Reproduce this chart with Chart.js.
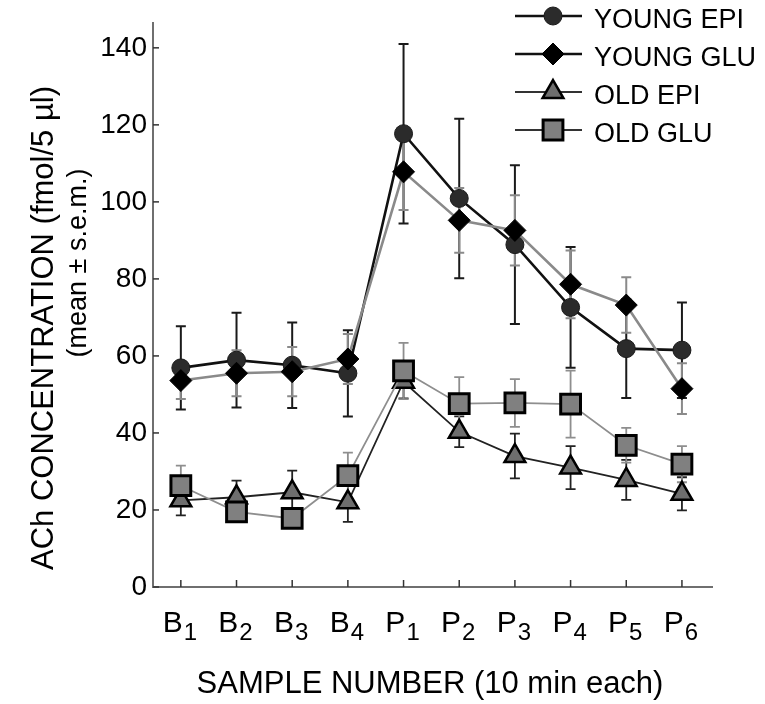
<!DOCTYPE html>
<html><head><meta charset="utf-8">
<script src="https://cdn.jsdelivr.net/npm/chart.js@4.4.1/dist/chart.umd.min.js"></script>
<style>html,body{margin:0;padding:0;background:#fff}#wrap{width:765px;height:704px}</style>
</head><body><div id="wrap"><canvas id="c" width="765" height="704"></canvas></div>
<script>
// ---- data ----
const categories = ['B1','B2','B3','B4','P1','P2','P3','P4','P5','P6'];
const yTicks = [0,20,40,60,80,100,120,140];
const seriesNames = ['YOUNG EPI','YOUNG GLU','OLD EPI','OLD GLU'];
const youngEpi    = [56.9, 58.9, 57.6, 55.5, 117.7, 100.9, 88.9, 72.6, 61.9, 61.5];
const youngEpiErr = [10.8, 12.3, 11.1, 11.2, 23.3, 20.7, 20.6, 15.7, 12.8, 12.4];
const youngGlu    = [53.6, 55.5, 55.9, 59.2, 107.8, 95.2, 92.6, 78.6, 73.2, 51.5];
const youngGluErr = [4.8, 6.0, 6.4, 6.5, 9.9, 8.4, 9.1, 8.8, 7.2, 6.6];
const oldEpi      = [22.5, 23.3, 24.6, 22.0, 53.3, 40.3, 34.0, 31.0, 27.8, 24.2];
const oldEpiErr   = [3.9, 4.3, 5.6, 5.1, 4.3, 4.0, 5.8, 5.6, 5.2, 4.3];
const oldGlu      = [26.3, 19.5, 17.8, 28.9, 56.1, 47.6, 47.8, 47.5, 36.8, 31.9];
const oldGluErr   = [5.2, 2.5, 2.5, 6.0, 7.3, 6.9, 6.2, 8.7, 4.5, 4.7];
const xTitle = 'SAMPLE NUMBER (10 min each)';
const yTitle1 = 'ACh CONCENTRATION (fmol/5 \u00b5l)';
const yTitle2 = '(mean \u00b1 s.e.m.)';

const FONT = "'Liberation Sans', Arial, sans-serif";
const toPts = arr => arr.map((v, i) => ({x: i, y: v}));

const styles = [
  {line:'#111111', lw:2.6, fill:'#2b2b2b', border:'#1a1a1a', bw:1, style:'circle', r:9, err:'#1a1a1a', ew:2},
  {line:'#8a8a8a', lw:2.6, fill:'#000000', border:'#000000', bw:1, style:'rectRot', r:11, err:'#8a8a8a', ew:2},
  {line:'#222222', lw:1.8, fill:'#6e6e6e', border:'#000000', bw:2.5, style:'triangle', r:12, err:'#222222', ew:1.8},
  {line:'#8e8e8e', lw:1.8, fill:'#808080', border:'#000000', bw:3, style:'rect', r:14, err:'#8e8e8e', ew:1.8}
];
const values = [youngEpi, youngGlu, oldEpi, oldGlu];
const errors = [youngEpiErr, youngGluErr, oldEpiErr, oldGluErr];
const orders = [1, 0, 3, 2];

const datasets = values.map((v, k) => ({
  label: seriesNames[k],
  data: toPts(v),
  borderColor: styles[k].line,
  borderWidth: styles[k].lw,
  pointStyle: styles[k].style,
  pointRadius: styles[k].r,
  pointBackgroundColor: styles[k].fill,
  pointBorderColor: styles[k].border,
  pointBorderWidth: styles[k].bw,
  tension: 0,
  order: orders[k]
}));

const custom = {
  id: 'custom',
  beforeDatasetsDraw(chart) {
    const ctx = chart.ctx, xs = chart.scales.x, ys = chart.scales.y;
    ctx.save();
    values.forEach((vals, k) => {
      ctx.strokeStyle = styles[k].err;
      ctx.lineWidth = styles[k].ew;
      vals.forEach((v, i) => {
        const e = errors[k][i];
        const x = xs.getPixelForValue(i);
        const yt = ys.getPixelForValue(v + e), yb = ys.getPixelForValue(v - e);
        ctx.beginPath();
        ctx.moveTo(x, yt); ctx.lineTo(x, yb);
        ctx.moveTo(x - 5, yt); ctx.lineTo(x + 5, yt);
        ctx.moveTo(x - 5, yb); ctx.lineTo(x + 5, yb);
        ctx.stroke();
      });
    });
    ctx.restore();
  },
  afterDraw(chart) {
    const ctx = chart.ctx, xs = chart.scales.x, ys = chart.scales.y, ca = chart.chartArea;
    ctx.save();
    // inward ticks
    ctx.strokeStyle = '#333'; ctx.lineWidth = 1.5;
    yTicks.forEach(t => {
      const y = ys.getPixelForValue(t);
      ctx.beginPath(); ctx.moveTo(ca.left, y); ctx.lineTo(ca.left + 6, y); ctx.stroke();
    });
    categories.forEach((c, i) => {
      const x = xs.getPixelForValue(i);
      ctx.beginPath(); ctx.moveTo(x, ca.bottom); ctx.lineTo(x, ca.bottom - 7); ctx.stroke();
    });
    // x labels with subscripts
    ctx.fillStyle = '#000';
    ctx.textBaseline = 'alphabetic';
    categories.forEach((c, i) => {
      const x = xs.getPixelForValue(i);
      const L = c.slice(0, 1), S = c.slice(1);
      ctx.font = '30px ' + FONT;
      const wl = ctx.measureText(L).width;
      ctx.font = '24px ' + FONT;
      const ws = ctx.measureText(S).width;
      const x0 = x - (wl + 1 + ws) / 2 - 1;
      ctx.font = '30px ' + FONT;
      ctx.textAlign = 'left';
      ctx.fillText(L, x0, 632);
      ctx.font = '24px ' + FONT;
      ctx.fillText(S, x0 + wl + 1, 640);
    });
    // x title
    ctx.font = '31px ' + FONT;
    ctx.textAlign = 'center';
    ctx.fillText(xTitle, 430, 693);
    // y titles
    ctx.save();
    ctx.translate(53, 328);
    ctx.rotate(-Math.PI / 2);
    ctx.font = '31px ' + FONT;
    ctx.textAlign = 'center';
    ctx.fillText(yTitle1, 0, 0);
    ctx.restore();
    ctx.save();
    ctx.translate(86, 263);
    ctx.rotate(-Math.PI / 2);
    ctx.font = '27px ' + FONT;
    ctx.textAlign = 'center';
    ctx.fillText(yTitle2, 0, 0);
    ctx.restore();
    // legend
    const rows = [16, 54, 92, 130];
    seriesNames.forEach((name, k) => {
      const y = rows[k], st = styles[k];
      ctx.strokeStyle = k < 2 ? '#111' : '#333';
      ctx.lineWidth = k < 2 ? 2.6 : 1.8;
      ctx.beginPath(); ctx.moveTo(515, y); ctx.lineTo(582, y); ctx.stroke();
      ctx.fillStyle = st.fill; ctx.strokeStyle = st.border; ctx.lineWidth = st.bw;
      Chart.helpers.drawPoint(ctx, {pointStyle: st.style, radius: st.r, rotation: 0, borderWidth: st.bw}, 553, y);
      ctx.fillStyle = '#000';
      ctx.font = '27px ' + FONT;
      ctx.textAlign = 'left';
      ctx.textBaseline = 'middle';
      ctx.fillText(name, 594, y + 5);
    });
    ctx.restore();
  }
};

new Chart(document.getElementById('c'), {
  type: 'line',
  data: {datasets},
  plugins: [custom],
  options: {
    responsive: false,
    devicePixelRatio: 1,
    animation: false,
    layout: {padding: {top: 18, right: 53, bottom: 0, left: 0}},
    plugins: {legend: {display: false}, tooltip: {enabled: false}},
    scales: {
      x: {
        type: 'linear', min: -0.5, max: 9.54,
        grid: {display: false, drawTicks: false},
        border: {color: '#6f6f6f', width: 2},
        ticks: {display: false},
        afterFit: s => { s.height = 117; }
      },
      y: {
        type: 'linear', min: 0, max: 146.5,
        afterBuildTicks: s => { s.ticks = yTicks.map(v => ({value: v})); },
        grid: {display: false, drawTicks: false},
        border: {color: '#6f6f6f', width: 2},
        ticks: {font: {family: FONT, size: 28}, color: '#000', padding: 6},
        afterFit: s => { s.width = 153; }
      }
    }
  }
});
</script></body></html>
